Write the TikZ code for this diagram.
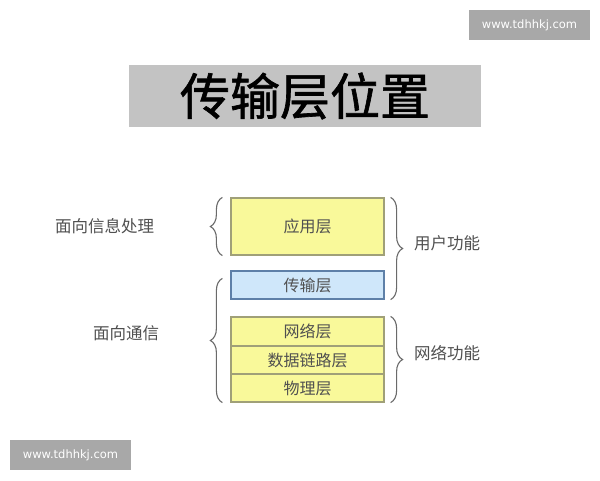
\documentclass[tikz,border=0pt]{standalone}
\usepackage{fontspec}
\newfontfamily\cjk{Noto Sans CJK SC}
\newfontfamily\cjktitle[FakeBold=1.3]{Noto Sans CJK SC}
\newfontfamily\wmfont{DejaVu Sans}
\usetikzlibrary{decorations.pathreplacing}
\definecolor{ylw}{HTML}{F9F99A}
\definecolor{ylwline}{HTML}{A0A078}
\definecolor{blu}{HTML}{CFE7FA}
\definecolor{bluline}{HTML}{5E80A8}
\definecolor{txt}{HTML}{505050}
\definecolor{brc}{HTML}{6A6A6A}
\definecolor{ttlbg}{HTML}{C3C3C3}
\definecolor{wmbg}{HTML}{A8A8A8}
\tikzset{
  layerbox/.style={draw=ylwline, fill=ylw, line width=1.2pt, minimum width=153pt, inner sep=0pt, font=\cjk\fontsize{16}{16}\selectfont, text=txt},
  bluebox/.style={draw=bluline, fill=blu, line width=1.2pt, minimum width=153pt, inner sep=0pt, font=\cjk\fontsize{16}{16}\selectfont, text=txt},
  lbl/.style={font=\cjk\fontsize{16.5}{16.5}\selectfont, text=txt, inner sep=0pt},
  bracel/.style={draw=brc, line width=1.1pt, decorate, decoration={brace, amplitude=12pt}},
  wm/.style={fill=wmbg, text=white, font=\wmfont\fontsize{11.5}{11.5}\selectfont, minimum width=121pt, minimum height=30pt, inner sep=0pt},
}
\begin{document}
\begin{tikzpicture}[x=1pt, y=-1pt]
\useasboundingbox (0,0) rectangle (600,480);
\fill[white] (0,0) rectangle (600,480);
% watermarks
\node[wm] (wm1) at (529.5,25) {www.tdhhkj.com};
\node[wm] (wm2) at (70.5,455) {www.tdhhkj.com};
% title
\node[fill=ttlbg, minimum width=352pt, minimum height=62pt, inner sep=0pt,
      font=\cjktitle\fontsize{50}{50}\selectfont, text=black] (title) at (305,96) {传输层位置};
% layers
\node[layerbox, minimum height=57pt] (app) at (307.5,226.5) {应用层};
\node[bluebox, minimum height=28pt] (trn) at (307.5,285) {传输层};
\node[layerbox, minimum height=29pt] (net) at (307.5,331.5) {网络层};
\node[layerbox, minimum height=28pt] (dl) at (307.5,360) {数据链路层};
\node[layerbox, minimum height=28pt] (phy) at (307.5,388) {物理层};
% brace anchors
\coordinate (l1b) at ([xshift=-8pt]app.south west);
\coordinate (l1t) at ([xshift=-8pt]app.north west);
\coordinate (l2b) at ([xshift=-8pt]phy.south west);
\coordinate (l2t) at ([xshift=-8pt,yshift=-8pt]trn.north west);
\coordinate (r1t) at ([xshift=6pt]app.north east);
\coordinate (r1b) at ([xshift=6pt]trn.south east);
\coordinate (r2t) at ([xshift=6pt]net.north east);
\coordinate (r2b) at ([xshift=6pt]phy.south east);
\draw[bracel] (l1b) -- (l1t);
\draw[bracel] (l2b) -- (l2t);
\draw[bracel] (r1t) -- (r1b);
\draw[bracel] (r2t) -- (r2b);
% labels
\node[lbl] (lab1) at (104.5,226) {面向信息处理};
\node[lbl] (lab2) at (126,333) {面向通信};
\node[lbl, anchor=west] (lab3) at (414,243) {用户功能};
\node[lbl, anchor=west] (lab4) at (414,353) {网络功能};
\end{tikzpicture}
\end{document}
